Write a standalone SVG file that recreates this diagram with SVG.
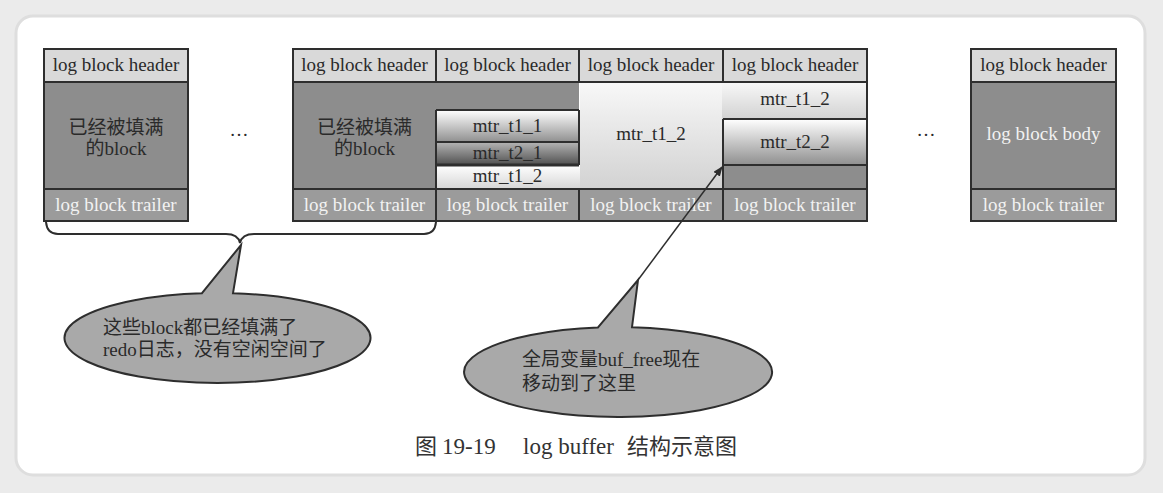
<svg xmlns="http://www.w3.org/2000/svg" width="1163" height="493" viewBox="0 0 1163 493">
<defs>
<style>
.t{font-family:"Liberation Serif","Noto Sans CJK SC",serif;font-size:19px;text-anchor:middle;fill:#2a2a2a}
.tw{fill:#f2f2f2}
.hd{fill:#d9d9d9}
.bd{fill:#8d8d8d}
.tr{fill:#9b9b9b}
.ln{fill:none;stroke:#2e2e2e;stroke-width:2}
.bub{fill:#a9a9a9;stroke:#2e2e2e;stroke-width:2}
.bt{font-family:"Liberation Serif","Noto Sans CJK SC",serif;font-size:19px;fill:#2a2a2a}
</style>
<linearGradient id="gW" x1="0" y1="0" x2="0" y2="1"><stop offset="0" stop-color="#ffffff"/><stop offset="1" stop-color="#8f8f8f"/></linearGradient>
<linearGradient id="gD" x1="0" y1="0" x2="0" y2="1"><stop offset="0" stop-color="#b5b5b5"/><stop offset="1" stop-color="#505050"/></linearGradient>
<linearGradient id="gL" x1="0" y1="0" x2="0" y2="1"><stop offset="0" stop-color="#ffffff"/><stop offset="1" stop-color="#d6d6d6"/></linearGradient>
<linearGradient id="gB" x1="0" y1="0" x2="0" y2="1"><stop offset="0" stop-color="#f8f8f8"/><stop offset="1" stop-color="#d2d2d2"/></linearGradient>
<marker id="ah" markerWidth="10" markerHeight="8" refX="9" refY="4" orient="auto" markerUnits="userSpaceOnUse"><path d="M0,0 L10,4 L0,8 Z" fill="#2e2e2e"/></marker>
</defs>
<rect x="0" y="0" width="1163" height="493" fill="#ebebeb"/>
<rect x="16" y="16" width="1129" height="459" rx="17" fill="#ffffff" stroke="#dedede" stroke-width="3"/>

<g id="block1">
<rect x="44" y="49" width="144" height="33" class="hd"/>
<rect x="44" y="82" width="144" height="107" class="bd"/>
<rect x="44" y="189" width="144" height="32" class="tr"/>
<rect x="44" y="49" width="144" height="172" class="ln"/>
<path d="M44 82H188M44 189H188" class="ln"/>
<text x="116" y="71" class="t">log block header</text>
<text x="116" y="134" class="t">已经被填满</text>
<text x="116" y="155" class="t">的block</text>
<text x="116" y="211" class="t tw">log block trailer</text>
</g>

<g id="dots1"><text x="239" y="136" class="t">…</text></g>

<g id="block2">
<rect x="293" y="49" width="143" height="33" class="hd"/>
<rect x="293" y="82" width="286" height="107" class="bd"/>
<rect x="293" y="189" width="143" height="32" class="tr"/>
<text x="364.5" y="71" class="t">log block header</text>
<text x="364.5" y="134" class="t">已经被填满</text>
<text x="364.5" y="155" class="t">的block</text>
<text x="364.5" y="211" class="t tw">log block trailer</text>
</g>

<g id="block3">
<rect x="436" y="49" width="143" height="33" class="hd"/>
<rect x="436" y="110" width="143" height="32" fill="url(#gW)"/>
<rect x="436" y="142" width="143" height="23" fill="url(#gD)"/>
<rect x="436" y="165" width="145" height="24" fill="url(#gL)"/>
<rect x="436" y="189" width="143" height="32" class="tr"/>
<text x="507.5" y="71" class="t">log block header</text>
<text x="507.5" y="132" class="t">mtr_t1_1</text>
<text x="507.5" y="159" class="t">mtr_t2_1</text>
<text x="507.5" y="182" class="t">mtr_t1_2</text>
<text x="507.5" y="211" class="t tw">log block trailer</text>
</g>

<g id="block4">
<rect x="579" y="49" width="144" height="33" class="hd"/>
<rect x="580" y="82" width="143" height="107" fill="url(#gB)"/>
<rect x="579" y="189" width="144" height="32" class="tr"/>
<text x="651" y="71" class="t">log block header</text>
<text x="651" y="140" class="t">mtr_t1_2</text>
<text x="651" y="211" class="t tw">log block trailer</text>
</g>

<g id="block5">
<rect x="723" y="49" width="144" height="33" class="hd"/>
<rect x="722" y="82" width="145" height="37" fill="url(#gB)"/>
<rect x="723" y="119" width="144" height="46" fill="url(#gW)"/>
<rect x="723" y="165" width="144" height="24" class="bd"/>
<rect x="723" y="189" width="144" height="32" class="tr"/>
<text x="795" y="71" class="t">log block header</text>
<text x="795" y="105" class="t">mtr_t1_2</text>
<text x="795" y="148" class="t">mtr_t2_2</text>
<text x="795" y="211" class="t tw">log block trailer</text>
</g>

<g id="frame2to5">
<rect x="293" y="49" width="574" height="172" class="ln"/>
<path d="M293 82H867M293 189H867M436 49V82M579 49V82M723 49V82M436 189V221M579 189V221M723 189V221M436 110V189M436 110H579M436 142H579M579 110V165M723 119H867M723 119V189M723 165H867" class="ln"/>
<path d="M436 165H579" stroke="#2e2e2e" stroke-width="3"/>
</g>

<g id="dots2"><text x="926" y="136" class="t">…</text></g>

<g id="block6">
<rect x="971" y="49" width="145" height="33" class="hd"/>
<rect x="971" y="82" width="145" height="107" class="bd"/>
<rect x="971" y="189" width="145" height="32" class="tr"/>
<rect x="971" y="49" width="145" height="172" class="ln"/>
<path d="M971 82H1116M971 189H1116" class="ln"/>
<text x="1043.5" y="71" class="t">log block header</text>
<text x="1043.5" y="140" class="t tw">log block body</text>
<text x="1043.5" y="211" class="t tw">log block trailer</text>
</g>

<g id="brace">
<path d="M46 222 Q47 234 58 234 H226 Q238 234 240 243 Q242 234 254 234 H424 Q435 234 436 222" class="ln" stroke-width="1.5"/>
</g>

<g id="bubble1">
<path d="M202 293.2 L241 245 L233 293.2 A153 45 0 1 1 202 293.2 Z" class="bub"/>
<text x="103" y="334" class="bt">这些block都已经填满了</text>
<text x="103" y="356" class="bt">redo日志，没有空闲空间了</text>
</g>

<g id="bubble2">
<path d="M598 327.4 L638 280 L632 327.2 A154 45 0 1 1 598 327.4 Z" class="bub"/>
<text x="522" y="366" class="bt">全局变量buf_free现在</text>
<text x="522" y="390" class="bt">移动到了这里</text>
</g>

<g id="connectors">
<path d="M638 280 L722 167" fill="none" stroke="#2e2e2e" stroke-width="1.5" marker-end="url(#ah)"/>
</g>

<g id="caption">
<text y="454" style="font-family:'Liberation Serif','Noto Sans CJK SC',serif;font-size:23px;fill:#333"><tspan x="415" style="font-size:22px">图</tspan><tspan x="442">19-19</tspan><tspan x="523">log buffer</tspan><tspan x="627" style="font-size:22px">结构示意图</tspan></text>
</g>
</svg>
